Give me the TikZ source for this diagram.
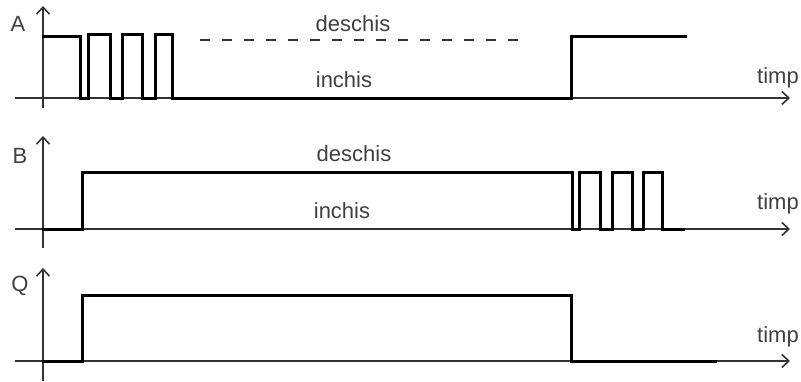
\documentclass[tikz,border=0pt]{standalone}
\usepackage{fontspec}
\setmainfont{Liberation Sans}
\usetikzlibrary{arrows.meta}
\begin{document}
\begin{tikzpicture}[x=1pt,y=-1pt,
  axis/.style={line width=1.8pt, draw=black!80,
    -{Straight Barb[length=7pt,width=13pt,line width=1.6pt]}},
  sig/.style={line width=3pt, line join=miter, line cap=rect, black},
  open/.style={line width=2pt, black!80, dash pattern=on 10pt off 12pt},
  lbl/.style={font=\fontsize{22}{22}\selectfont, text=black!75, inner sep=0pt, anchor=base},
]
\useasboundingbox (0,0) rectangle (801,381);

% ---------- signal A ----------
\coordinate (Ay0) at (43,108);
\coordinate (Ay1) at (43,6);
\coordinate (At0) at (15,98);
\coordinate (At1) at (790,98);
\draw[axis] (Ay0) -- (Ay1);
\draw[axis] (At0) -- (At1);
\draw[sig] (43,36) -- (80,36) -- (80,98) -- (88,98) -- (88,34) -- (110,34)
  -- (110,98) -- (122,98) -- (122,34) -- (142,34) -- (142,98) -- (155,98)
  -- (155,34) -- (172,34) -- (172,98) -- (571,98) -- (571,36) -- (685,36);
\coordinate (Ad0) at (200,40);
\coordinate (Ad1) at (527,40);
\draw[open] (Ad0) -- (Ad1);
\node[lbl] (labA) at (18,31) {A};
\node[lbl] (Aopen) at (353,31) {deschis};
\node[lbl] (Aclosed) at (344,87) {inchis};
\node[lbl] (Atime) at (778,83) {timp};

% ---------- signal B ----------
\coordinate (By0) at (43,248);
\coordinate (By1) at (43,136);
\coordinate (Bt0) at (15,229);
\coordinate (Bt1) at (790,229);
\draw[axis] (By0) -- (By1);
\draw[axis] (Bt0) -- (Bt1);
\draw[sig] (43,229) -- (82,229) -- (82,172) -- (572,172) -- (572,229)
  -- (579,229) -- (579,172) -- (600,172) -- (600,229) -- (612,229)
  -- (612,172) -- (632,172) -- (632,229) -- (643,229) -- (643,172)
  -- (662,172) -- (662,229) -- (683,229);
\node[lbl] (labB) at (20,163) {B};
\node[lbl] (Bopen) at (354,161) {deschis};
\node[lbl] (Bclosed) at (342,218) {inchis};
\node[lbl] (Btime) at (778,209) {timp};

% ---------- output Q ----------
\coordinate (Qy0) at (43,381);
\coordinate (Qy1) at (43,268);
\coordinate (Qt0) at (15,361);
\coordinate (Qt1) at (790,361);
\draw[axis] (Qy0) -- (Qy1);
\draw[axis] (Qt0) -- (Qt1);
\draw[sig] (43,361) -- (82,361) -- (82,295) -- (571,295) -- (571,361) -- (715,361);
\node[lbl] (labQ) at (20,291) {Q};
\node[lbl] (Qtime) at (778,342) {timp};
\end{tikzpicture}
\end{document}
